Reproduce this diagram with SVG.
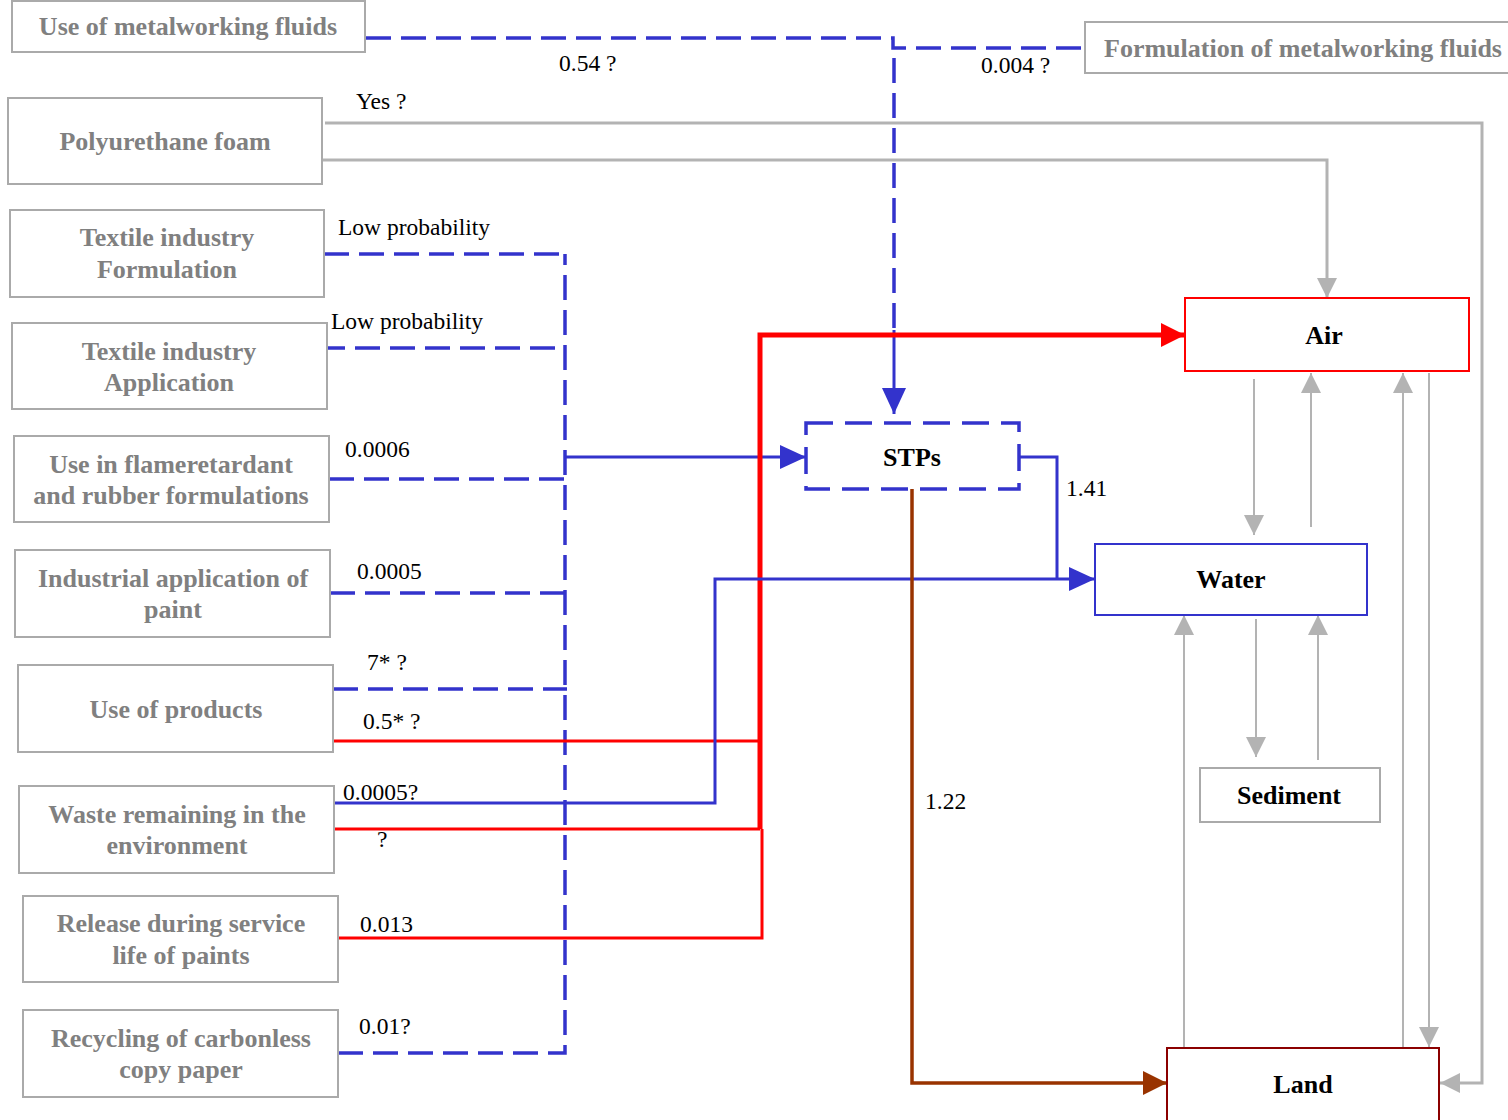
<svg xmlns="http://www.w3.org/2000/svg" width="1508" height="1120" viewBox="0 0 1508 1120">
<defs>
<style>
.src rect{fill:#fff;stroke:#aaaaaa;stroke-width:2}
.src text{font-family:"Liberation Serif",serif;font-weight:bold;font-size:26px;fill:#808080;text-anchor:middle}
.tgt text{font-family:"Liberation Serif",serif;font-weight:bold;font-size:26px;fill:#000;text-anchor:middle}
.lbl{font-family:"Liberation Serif",serif;font-size:23.5px;fill:#000}
.bd{fill:none;stroke:#3333cc;stroke-width:3.5;stroke-dasharray:25 10}
.bs{fill:none;stroke:#3333cc;stroke-width:3}
.rd{fill:none;stroke:#ff0000;stroke-width:3}
.rt{fill:none;stroke:#ff0000;stroke-width:5}
.br{fill:none;stroke:#993300;stroke-width:3.5}
.gy{fill:none;stroke:#b3b3b3;stroke-width:3}
.gt{fill:none;stroke:#b3b3b3;stroke-width:2}
</style>
<marker id="aB" markerUnits="userSpaceOnUse" markerWidth="26" markerHeight="24" refX="26" refY="12" orient="auto"><path d="M0,0 L26,12 L0,24 Z" fill="#3333cc"/></marker>
<marker id="aR" markerUnits="userSpaceOnUse" markerWidth="24" markerHeight="24" refX="24" refY="12" orient="auto"><path d="M0,0 L24,12 L0,24 Z" fill="#ff0000"/></marker>
<marker id="aBr" markerUnits="userSpaceOnUse" markerWidth="24" markerHeight="24" refX="24" refY="12" orient="auto"><path d="M0,0 L24,12 L0,24 Z" fill="#993300"/></marker>
<marker id="aG" markerUnits="userSpaceOnUse" markerWidth="20" markerHeight="20" refX="20" refY="10" orient="auto"><path d="M0,0 L20,10 L0,20 Z" fill="#b3b3b3"/></marker>
</defs>
<rect width="1508" height="1120" fill="#fff"/>

<g id="connectors">
  <path class="bd" d="M366,38 H893 V48 H1085"/>
  <path class="bd" d="M894,58 V330"/>
  <path class="bs" d="M894,330 V414" marker-end="url(#aB)"/>
  <path class="gy" d="M325,123 H1482 V1083 H1440" marker-end="url(#aG)"/>
  <path class="gy" d="M323,160 H1327 V298" marker-end="url(#aG)"/>
  <path class="bd" d="M324,254 H565"/>
  <path class="bd" d="M320,348 H565"/>
  <path class="bd" d="M329,479 H565"/>
  <path class="bd" d="M330,593 H567"/>
  <path class="bd" d="M333,689 H567"/>
  <path class="bd" d="M338,1053 H565 V254"/>
  <path class="bs" d="M565,457 H806" marker-end="url(#aB)"/>
  <path class="rd" d="M333,741 H760"/>
  <path class="rd" d="M334,829 H760"/>
  <path class="rd" d="M338,938 H762 V829"/>
  <path class="rt" d="M760,829 V335 H1185" marker-end="url(#aR)"/>
  <path class="bs" d="M334,803 H715 V579 H1095" marker-end="url(#aB)"/>
  <path class="bs" d="M1020,457 H1057 V579"/>
  <path class="br" d="M912,489 V1083 H1167" marker-end="url(#aBr)"/>
  <path class="gt" d="M1254,379 V535" marker-end="url(#aG)"/>
  <path class="gt" d="M1311,527 V373" marker-end="url(#aG)"/>
  <path class="gt" d="M1403,1048 V373" marker-end="url(#aG)"/>
  <path class="gt" d="M1429,373 V1047" marker-end="url(#aG)"/>
  <path class="gt" d="M1184,1048 V615" marker-end="url(#aG)"/>
  <path class="gt" d="M1256,619 V757" marker-end="url(#aG)"/>
  <path class="gt" d="M1318,760 V615" marker-end="url(#aG)"/>
  <text class="lbl" x="559" y="71">0.54 ?</text>
  <text class="lbl" x="981" y="73">0.004 ?</text>
  <text class="lbl" x="356" y="109">Yes ?</text>
  <text class="lbl" x="338" y="235">Low probability</text>
  <text class="lbl" x="331" y="329">Low probability</text>
  <text class="lbl" x="345" y="457">0.0006</text>
  <text class="lbl" x="357" y="579">0.0005</text>
  <text class="lbl" x="367" y="670">7* ?</text>
  <text class="lbl" x="363" y="729">0.5* ?</text>
  <text class="lbl" x="343" y="800">0.0005?</text>
  <text class="lbl" x="377" y="847">?</text>
  <text class="lbl" x="360" y="932">0.013</text>
  <text class="lbl" x="359" y="1034">0.01?</text>
  <text class="lbl" x="1066" y="496">1.41</text>
  <text class="lbl" x="925" y="809">1.22</text>
</g>

<g id="n-metal-use" class="src"><rect x="12" y="1" width="353" height="51"/><text x="188" y="35">Use of metalworking fluids</text></g>
<g id="n-metal-form" class="src"><rect x="1085" y="22" width="430" height="51"/><text x="1303" y="57">Formulation of metalworking fluids</text></g>
<g id="n-pu" class="src"><rect x="8" y="98" width="314" height="86"/><text x="165" y="150">Polyurethane foam</text></g>
<g id="n-tex-form" class="src"><rect x="10" y="210" width="314" height="87"/><text x="167" y="246">Textile industry</text><text x="167" y="278">Formulation</text></g>
<g id="n-tex-app" class="src"><rect x="12" y="323" width="315" height="86"/><text x="169" y="360">Textile industry</text><text x="169" y="391">Application</text></g>
<g id="n-flame" class="src"><rect x="14" y="436" width="315" height="86"/><text x="171" y="473">Use in flameretardant</text><text x="171" y="504">and rubber formulations</text></g>
<g id="n-paint" class="src"><rect x="15" y="550" width="315" height="87"/><text x="173" y="587">Industrial application of</text><text x="173" y="618">paint</text></g>
<g id="n-products" class="src"><rect x="18" y="665" width="315" height="87"/><text x="176" y="718">Use of products</text></g>
<g id="n-waste" class="src"><rect x="19" y="786" width="315" height="87"/><text x="177" y="823">Waste remaining in the</text><text x="177" y="854">environment</text></g>
<g id="n-release" class="src"><rect x="23" y="896" width="315" height="86"/><text x="181" y="932">Release during service</text><text x="181" y="964">life of paints</text></g>
<g id="n-recycling" class="src"><rect x="23" y="1010" width="315" height="87"/><text x="181" y="1047">Recycling of carbonless</text><text x="181" y="1078">copy paper</text></g>

<g id="n-stps" class="tgt"><rect x="806" y="423" width="213" height="66" fill="#fff" stroke="#3333cc" stroke-width="3.5" stroke-dasharray="27 12"/><text x="912" y="466">STPs</text></g>
<g id="n-air" class="tgt"><rect x="1185" y="298" width="284" height="73" fill="#fff" stroke="#ff0000" stroke-width="2"/><text x="1324" y="344">Air</text></g>
<g id="n-water" class="tgt"><rect x="1095" y="544" width="272" height="71" fill="#fff" stroke="#3333cc" stroke-width="2"/><text x="1231" y="588">Water</text></g>
<g id="n-sediment" class="tgt"><rect x="1200" y="768" width="180" height="54" fill="#fff" stroke="#aaaaaa" stroke-width="2"/><text x="1289" y="804">Sediment</text></g>
<g id="n-land" class="tgt"><rect x="1167" y="1048" width="272" height="74" fill="#fff" stroke="#8b0000" stroke-width="2"/><text x="1303" y="1093">Land</text></g>
</svg>
